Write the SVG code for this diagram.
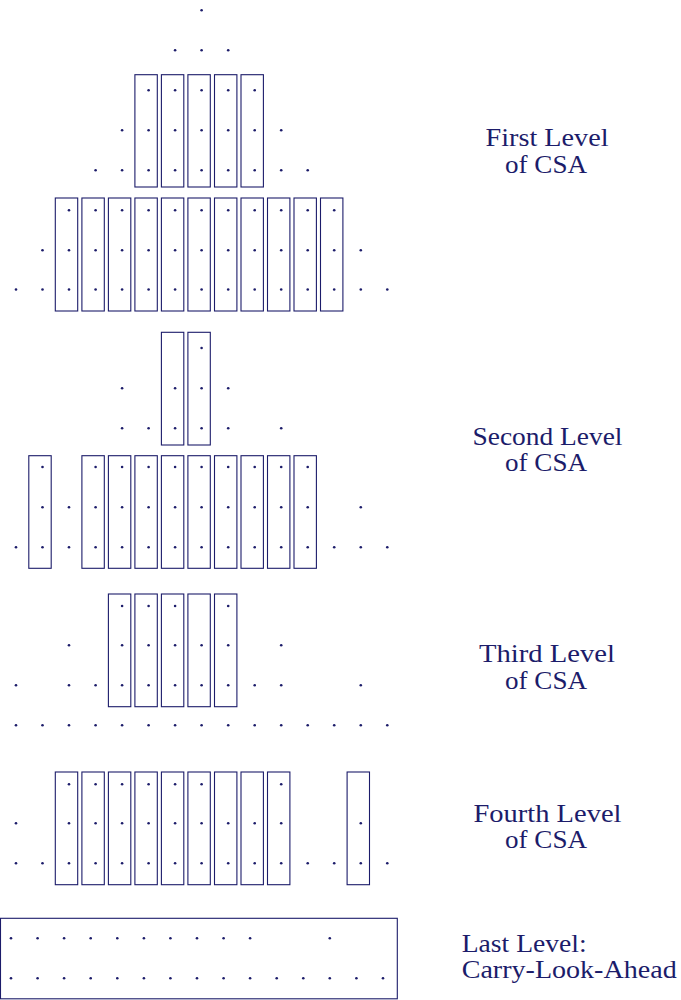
<svg xmlns="http://www.w3.org/2000/svg" width="681" height="1000" viewBox="0 0 681 1000">
<style>
.box{fill:none;stroke:#1c1c6a;stroke-width:1.1}
.lbl{font-size:25px;fill:#1c1c6a}
</style>
<defs>
<circle id="d" cx="0" cy="0" r="1.3" fill="#1c1c6a"/>
</defs>
<rect width="681" height="1000" fill="#ffffff"/>

<g id="level1">
<rect class="box" x="134.9" y="74.7" width="22.4" height="112.3"/>
<rect class="box" x="161.4" y="74.7" width="22.4" height="112.3"/>
<rect class="box" x="187.9" y="74.7" width="22.4" height="112.3"/>
<rect class="box" x="214.5" y="74.7" width="22.4" height="112.3"/>
<rect class="box" x="241" y="74.7" width="22.4" height="112.3"/>
<rect class="box" x="55.3" y="198" width="22.4" height="113"/>
<rect class="box" x="81.9" y="198" width="22.4" height="113"/>
<rect class="box" x="108.4" y="198" width="22.4" height="113"/>
<rect class="box" x="134.9" y="198" width="22.4" height="113"/>
<rect class="box" x="161.4" y="198" width="22.4" height="113"/>
<rect class="box" x="187.9" y="198" width="22.4" height="113"/>
<rect class="box" x="214.5" y="198" width="22.4" height="113"/>
<rect class="box" x="241" y="198" width="22.4" height="113"/>
<rect class="box" x="267.5" y="198" width="22.4" height="113"/>
<rect class="box" x="294" y="198" width="22.4" height="113"/>
<rect class="box" x="320.5" y="198" width="22.4" height="113"/>
<use href="#d" x="201.6" y="10.3"/>
<use href="#d" x="175.1" y="50.3"/><use href="#d" x="201.6" y="50.3"/><use href="#d" x="228.2" y="50.3"/>
<use href="#d" x="148.6" y="90.3"/><use href="#d" x="175.1" y="90.3"/><use href="#d" x="201.6" y="90.3"/><use href="#d" x="228.2" y="90.3"/><use href="#d" x="254.7" y="90.3"/>
<use href="#d" x="122.1" y="130.3"/><use href="#d" x="148.6" y="130.3"/><use href="#d" x="175.1" y="130.3"/><use href="#d" x="201.6" y="130.3"/><use href="#d" x="228.2" y="130.3"/><use href="#d" x="254.7" y="130.3"/><use href="#d" x="281.2" y="130.3"/>
<use href="#d" x="95.6" y="170.3"/><use href="#d" x="122.1" y="170.3"/><use href="#d" x="148.6" y="170.3"/><use href="#d" x="175.1" y="170.3"/><use href="#d" x="201.6" y="170.3"/><use href="#d" x="228.2" y="170.3"/><use href="#d" x="254.7" y="170.3"/><use href="#d" x="281.2" y="170.3"/><use href="#d" x="307.7" y="170.3"/>
<use href="#d" x="69" y="210.3"/><use href="#d" x="95.6" y="210.3"/><use href="#d" x="122.1" y="210.3"/><use href="#d" x="148.6" y="210.3"/><use href="#d" x="175.1" y="210.3"/><use href="#d" x="201.6" y="210.3"/><use href="#d" x="228.2" y="210.3"/><use href="#d" x="254.7" y="210.3"/><use href="#d" x="281.2" y="210.3"/><use href="#d" x="307.7" y="210.3"/><use href="#d" x="334.2" y="210.3"/>
<use href="#d" x="42.5" y="250.3"/><use href="#d" x="69" y="250.3"/><use href="#d" x="95.6" y="250.3"/><use href="#d" x="122.1" y="250.3"/><use href="#d" x="148.6" y="250.3"/><use href="#d" x="175.1" y="250.3"/><use href="#d" x="201.6" y="250.3"/><use href="#d" x="228.2" y="250.3"/><use href="#d" x="254.7" y="250.3"/><use href="#d" x="281.2" y="250.3"/><use href="#d" x="307.7" y="250.3"/><use href="#d" x="334.2" y="250.3"/><use href="#d" x="360.8" y="250.3"/>
<use href="#d" x="16" y="289.5"/><use href="#d" x="42.5" y="289.5"/><use href="#d" x="69" y="289.5"/><use href="#d" x="95.6" y="289.5"/><use href="#d" x="122.1" y="289.5"/><use href="#d" x="148.6" y="289.5"/><use href="#d" x="175.1" y="289.5"/><use href="#d" x="201.6" y="289.5"/><use href="#d" x="228.2" y="289.5"/><use href="#d" x="254.7" y="289.5"/><use href="#d" x="281.2" y="289.5"/><use href="#d" x="307.7" y="289.5"/><use href="#d" x="334.2" y="289.5"/><use href="#d" x="360.8" y="289.5"/><use href="#d" x="387.3" y="289.5"/>
<text class="lbl" font-family="Liberation Serif, DejaVu Serif, serif" x="547" y="146" text-anchor="middle" textLength="123" lengthAdjust="spacingAndGlyphs">First Level</text>
<text class="lbl" font-family="Liberation Serif, DejaVu Serif, serif" x="546" y="172.5" text-anchor="middle" textLength="82" lengthAdjust="spacingAndGlyphs">of CSA</text>
</g>

<g id="level2">
<rect class="box" x="161.4" y="332.3" width="22.4" height="112.7"/>
<rect class="box" x="187.9" y="332.3" width="22.4" height="112.7"/>
<rect class="box" x="28.8" y="455.7" width="22.4" height="112.6"/>
<rect class="box" x="81.9" y="455.7" width="22.4" height="112.6"/>
<rect class="box" x="108.4" y="455.7" width="22.4" height="112.6"/>
<rect class="box" x="134.9" y="455.7" width="22.4" height="112.6"/>
<rect class="box" x="161.4" y="455.7" width="22.4" height="112.6"/>
<rect class="box" x="187.9" y="455.7" width="22.4" height="112.6"/>
<rect class="box" x="214.5" y="455.7" width="22.4" height="112.6"/>
<rect class="box" x="241" y="455.7" width="22.4" height="112.6"/>
<rect class="box" x="267.5" y="455.7" width="22.4" height="112.6"/>
<rect class="box" x="294" y="455.7" width="22.4" height="112.6"/>
<use href="#d" x="201.6" y="348"/>
<use href="#d" x="122.1" y="388.3"/><use href="#d" x="175.1" y="388.3"/><use href="#d" x="201.6" y="388.3"/><use href="#d" x="228.2" y="388.3"/>
<use href="#d" x="122.1" y="428.3"/><use href="#d" x="148.6" y="428.3"/><use href="#d" x="175.1" y="428.3"/><use href="#d" x="201.6" y="428.3"/><use href="#d" x="228.2" y="428.3"/><use href="#d" x="281.2" y="428.3"/>
<use href="#d" x="42.5" y="467"/><use href="#d" x="95.6" y="467"/><use href="#d" x="122.1" y="467"/><use href="#d" x="148.6" y="467"/><use href="#d" x="175.1" y="467"/><use href="#d" x="201.6" y="467"/><use href="#d" x="228.2" y="467"/><use href="#d" x="254.7" y="467"/><use href="#d" x="281.2" y="467"/><use href="#d" x="307.7" y="467"/>
<use href="#d" x="42.5" y="507.3"/><use href="#d" x="69" y="507.3"/><use href="#d" x="95.6" y="507.3"/><use href="#d" x="122.1" y="507.3"/><use href="#d" x="148.6" y="507.3"/><use href="#d" x="175.1" y="507.3"/><use href="#d" x="201.6" y="507.3"/><use href="#d" x="228.2" y="507.3"/><use href="#d" x="254.7" y="507.3"/><use href="#d" x="281.2" y="507.3"/><use href="#d" x="307.7" y="507.3"/><use href="#d" x="360.8" y="507.3"/>
<use href="#d" x="16" y="547.3"/><use href="#d" x="42.5" y="547.3"/><use href="#d" x="69" y="547.3"/><use href="#d" x="95.6" y="547.3"/><use href="#d" x="122.1" y="547.3"/><use href="#d" x="148.6" y="547.3"/><use href="#d" x="175.1" y="547.3"/><use href="#d" x="201.6" y="547.3"/><use href="#d" x="228.2" y="547.3"/><use href="#d" x="254.7" y="547.3"/><use href="#d" x="281.2" y="547.3"/><use href="#d" x="307.7" y="547.3"/><use href="#d" x="334.2" y="547.3"/><use href="#d" x="360.8" y="547.3"/><use href="#d" x="387.3" y="547.3"/>
<text class="lbl" font-family="Liberation Serif, DejaVu Serif, serif" x="547.5" y="445" text-anchor="middle" textLength="150" lengthAdjust="spacingAndGlyphs">Second Level</text>
<text class="lbl" font-family="Liberation Serif, DejaVu Serif, serif" x="546" y="471" text-anchor="middle" textLength="82" lengthAdjust="spacingAndGlyphs">of CSA</text>
</g>

<g id="level3">
<rect class="box" x="108.4" y="594" width="22.4" height="112.7"/>
<rect class="box" x="134.9" y="594" width="22.4" height="112.7"/>
<rect class="box" x="161.4" y="594" width="22.4" height="112.7"/>
<rect class="box" x="187.9" y="594" width="22.4" height="112.7"/>
<rect class="box" x="214.5" y="594" width="22.4" height="112.7"/>
<use href="#d" x="122.1" y="606"/><use href="#d" x="148.6" y="606"/><use href="#d" x="175.1" y="606"/><use href="#d" x="228.2" y="606"/>
<use href="#d" x="69" y="645.3"/><use href="#d" x="122.1" y="645.3"/><use href="#d" x="148.6" y="645.3"/><use href="#d" x="175.1" y="645.3"/><use href="#d" x="201.6" y="645.3"/><use href="#d" x="228.2" y="645.3"/><use href="#d" x="281.2" y="645.3"/>
<use href="#d" x="16" y="685.3"/><use href="#d" x="69" y="685.3"/><use href="#d" x="95.6" y="685.3"/><use href="#d" x="122.1" y="685.3"/><use href="#d" x="148.6" y="685.3"/><use href="#d" x="175.1" y="685.3"/><use href="#d" x="201.6" y="685.3"/><use href="#d" x="228.2" y="685.3"/><use href="#d" x="254.7" y="685.3"/><use href="#d" x="281.2" y="685.3"/><use href="#d" x="360.8" y="685.3"/>
<use href="#d" x="16" y="725.3"/><use href="#d" x="42.5" y="725.3"/><use href="#d" x="69" y="725.3"/><use href="#d" x="95.6" y="725.3"/><use href="#d" x="122.1" y="725.3"/><use href="#d" x="148.6" y="725.3"/><use href="#d" x="175.1" y="725.3"/><use href="#d" x="201.6" y="725.3"/><use href="#d" x="228.2" y="725.3"/><use href="#d" x="254.7" y="725.3"/><use href="#d" x="281.2" y="725.3"/><use href="#d" x="307.7" y="725.3"/><use href="#d" x="334.2" y="725.3"/><use href="#d" x="360.8" y="725.3"/><use href="#d" x="387.3" y="725.3"/>
<text class="lbl" font-family="Liberation Serif, DejaVu Serif, serif" x="547" y="662.3" text-anchor="middle" textLength="136" lengthAdjust="spacingAndGlyphs">Third Level</text>
<text class="lbl" font-family="Liberation Serif, DejaVu Serif, serif" x="546" y="689" text-anchor="middle" textLength="82" lengthAdjust="spacingAndGlyphs">of CSA</text>
</g>

<g id="level4">
<rect class="box" x="55.3" y="772" width="22.4" height="112.7"/>
<rect class="box" x="81.9" y="772" width="22.4" height="112.7"/>
<rect class="box" x="108.4" y="772" width="22.4" height="112.7"/>
<rect class="box" x="134.9" y="772" width="22.4" height="112.7"/>
<rect class="box" x="161.4" y="772" width="22.4" height="112.7"/>
<rect class="box" x="187.9" y="772" width="22.4" height="112.7"/>
<rect class="box" x="214.5" y="772" width="22.4" height="112.7"/>
<rect class="box" x="241" y="772" width="22.4" height="112.7"/>
<rect class="box" x="267.5" y="772" width="22.4" height="112.7"/>
<rect class="box" x="347.1" y="772" width="22.4" height="112.7"/>
<use href="#d" x="69" y="784.3"/><use href="#d" x="95.6" y="784.3"/><use href="#d" x="122.1" y="784.3"/><use href="#d" x="148.6" y="784.3"/><use href="#d" x="175.1" y="784.3"/><use href="#d" x="201.6" y="784.3"/><use href="#d" x="281.2" y="784.3"/>
<use href="#d" x="16" y="823.3"/><use href="#d" x="69" y="823.3"/><use href="#d" x="95.6" y="823.3"/><use href="#d" x="122.1" y="823.3"/><use href="#d" x="148.6" y="823.3"/><use href="#d" x="175.1" y="823.3"/><use href="#d" x="201.6" y="823.3"/><use href="#d" x="228.2" y="823.3"/><use href="#d" x="254.7" y="823.3"/><use href="#d" x="281.2" y="823.3"/><use href="#d" x="360.8" y="823.3"/>
<use href="#d" x="16" y="863.3"/><use href="#d" x="42.5" y="863.3"/><use href="#d" x="69" y="863.3"/><use href="#d" x="95.6" y="863.3"/><use href="#d" x="122.1" y="863.3"/><use href="#d" x="148.6" y="863.3"/><use href="#d" x="175.1" y="863.3"/><use href="#d" x="201.6" y="863.3"/><use href="#d" x="228.2" y="863.3"/><use href="#d" x="254.7" y="863.3"/><use href="#d" x="281.2" y="863.3"/><use href="#d" x="307.7" y="863.3"/><use href="#d" x="334.2" y="863.3"/><use href="#d" x="360.8" y="863.3"/><use href="#d" x="387.3" y="863.3"/>
<text class="lbl" font-family="Liberation Serif, DejaVu Serif, serif" x="547.5" y="821.7" text-anchor="middle" textLength="148" lengthAdjust="spacingAndGlyphs">Fourth Level</text>
<text class="lbl" font-family="Liberation Serif, DejaVu Serif, serif" x="546" y="847.7" text-anchor="middle" textLength="82" lengthAdjust="spacingAndGlyphs">of CSA</text>
</g>

<g id="last-level">
<rect class="box" x="0.5" y="918.3" width="396.8" height="80.5"/>
<use href="#d" x="11" y="938.3"/><use href="#d" x="37.6" y="938.3"/><use href="#d" x="64.1" y="938.3"/><use href="#d" x="90.7" y="938.3"/><use href="#d" x="117.3" y="938.3"/><use href="#d" x="143.9" y="938.3"/><use href="#d" x="170.4" y="938.3"/><use href="#d" x="197" y="938.3"/><use href="#d" x="223.6" y="938.3"/><use href="#d" x="250.1" y="938.3"/><use href="#d" x="329.8" y="938.3"/>
<use href="#d" x="11" y="978.3"/><use href="#d" x="37.6" y="978.3"/><use href="#d" x="64.1" y="978.3"/><use href="#d" x="90.7" y="978.3"/><use href="#d" x="117.3" y="978.3"/><use href="#d" x="143.9" y="978.3"/><use href="#d" x="170.4" y="978.3"/><use href="#d" x="197" y="978.3"/><use href="#d" x="223.6" y="978.3"/><use href="#d" x="250.1" y="978.3"/><use href="#d" x="276.7" y="978.3"/><use href="#d" x="303.3" y="978.3"/><use href="#d" x="329.8" y="978.3"/><use href="#d" x="356.4" y="978.3"/><use href="#d" x="383" y="978.3"/>
<text class="lbl" font-family="Liberation Serif, DejaVu Serif, serif" x="461.7" y="952.3" textLength="125" lengthAdjust="spacingAndGlyphs">Last Level:</text>
<text class="lbl" font-family="Liberation Serif, DejaVu Serif, serif" x="461.7" y="978.3" textLength="215" lengthAdjust="spacingAndGlyphs">Carry-Look-Ahead</text>
</g>
</svg>
